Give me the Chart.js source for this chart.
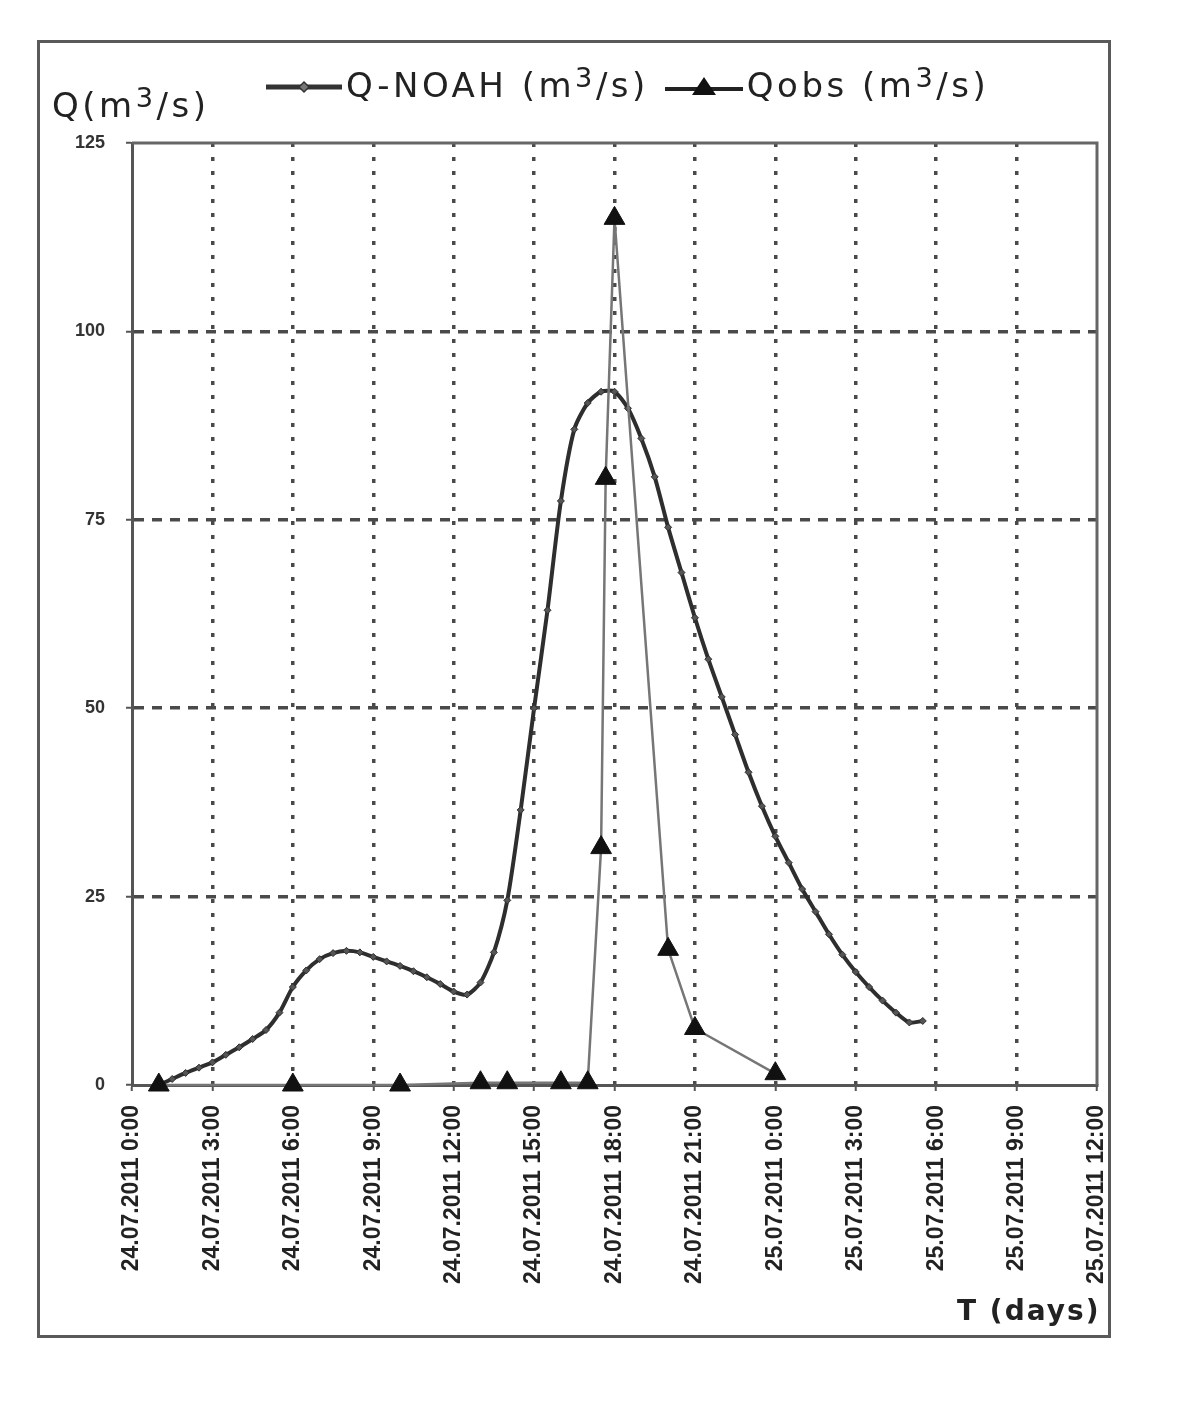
<!DOCTYPE html>
<html>
<head>
<meta charset="utf-8">
<script src="https://cdn.jsdelivr.net/npm/chart.js@4.4.0/dist/chart.umd.min.js"></script>
<style>
  html, body { margin: 0; padding: 0; background: #ffffff; }
  #wrap { position: relative; width: 1200px; height: 1418px; overflow: hidden; }
  #c { position: absolute; left: 0; top: 0; }
  .frame { position: absolute; left: 37px; top: 40px; width: 1074px; height: 1298px;
           border: 3px solid #5a5a5a; box-sizing: border-box; }
  .txt { position: absolute; font-family: 'DejaVu Sans', sans-serif; color: #222; white-space: nowrap; }
  .big { font-size: 34px; line-height: 40px; letter-spacing: 3.5px; }
  .sup { font-size: 0.8em; position: relative; top: -0.35em; }
  #legend { left: 266px; top: 65px; display: flex; align-items: center; }
  #ytitle { left: 52px; top: 85px; }
  #xtitle { left: 957px; top: 1294px; font-size: 28px; line-height: 34px; font-weight: bold; letter-spacing: 2px; }
</style>
</head>
<body>
<div id="wrap">
  <canvas id="c" width="1200" height="1418"></canvas>
  <div class="frame"></div>
  <div id="legend" class="txt big">
    <svg width="76" height="24" viewBox="0 0 76 24"><line x1="0" y1="12" x2="76" y2="12" stroke="#333" stroke-width="5"/><polygon points="38,7 43,12 38,17 33,12" fill="#777" stroke="#333" stroke-width="1.5"/></svg>
    <span style="margin-left:4px">Q-NOAH (m<span class="sup">3</span>/s)</span>
    <svg style="margin-left:16px" width="78" height="26" viewBox="0 0 78 26"><line x1="0" y1="15" x2="78" y2="15" stroke="#222" stroke-width="4"/><polygon points="39,3 51,21 27,21" fill="#111"/></svg>
    <span style="margin-left:4px">Qobs (m<span class="sup">3</span>/s)</span>
  </div>
  <div id="ytitle" class="txt big">Q(m<span class="sup">3</span>/s)</div>
  <div id="xtitle" class="txt">T (days)</div>
</div>
<script>
// ---- data (hours counted from 24.07.2011 0:00) ----
const tickLabels = [
  "24.07.2011 0:00", "24.07.2011 3:00", "24.07.2011 6:00", "24.07.2011 9:00",
  "24.07.2011 12:00", "24.07.2011 15:00", "24.07.2011 18:00", "24.07.2011 21:00",
  "25.07.2011 0:00", "25.07.2011 3:00", "25.07.2011 6:00", "25.07.2011 9:00",
  "25.07.2011 12:00"
];
const yTickValues = [0, 25, 50, 75, 100, 125];

const noahHours = [
  1, 1.5, 2, 2.5, 3, 3.5, 4, 4.5, 5, 5.5, 6, 6.5, 7, 7.5, 8, 8.5, 9, 9.5, 10, 10.5,
  11, 11.5, 12, 12.5, 13, 13.5, 14, 14.5, 15, 15.5, 16, 16.5, 17, 17.5, 18, 18.5, 19, 19.5,
  20, 20.5, 21, 21.5, 22, 22.5, 23, 23.5, 24, 24.5, 25, 25.5, 26, 26.5, 27, 27.5, 28, 28.5,
  29, 29.5
];
const noahQ = [
  0, 0.8, 1.6, 2.3, 3.0, 4.0, 5.0, 6.1, 7.3, 9.6, 13.0, 15.2, 16.7, 17.5, 17.8, 17.6, 17.0, 16.4, 15.8, 15.1,
  14.3, 13.4, 12.4, 12.0, 13.6, 17.6, 24.5, 36.5, 50.0, 63.0, 77.5, 87.0, 90.5, 92.0, 92.0, 89.8, 85.8, 80.7,
  74.0, 68.0, 62.0, 56.5, 51.5, 46.5, 41.5, 37.0, 33.0, 29.5, 26.0, 23.0, 20.0, 17.3, 15.0, 13.0, 11.2, 9.6,
  8.3, 8.5
];

const obsHours = [1, 6, 10, 13, 14, 16, 17, 17.5, 17.67, 18, 20, 21, 24];
const obsQ     = [0, 0, 0, 0.3, 0.3, 0.3, 0.3, 31.5, 80.5, 115, 18, 7.5, 1.5];

// ---- chart ----
Chart.defaults.font.family = "'Liberation Sans', Arial, sans-serif";
Chart.defaults.color = '#222';

const framePlugin = {
  id: 'plotFrame',
  beforeDatasetsDraw(chart) {
    const { ctx, chartArea: a } = chart;
    ctx.save();
    ctx.strokeStyle = '#666';
    ctx.lineWidth = 3;
    ctx.beginPath();
    ctx.moveTo(a.left, a.top);
    ctx.lineTo(a.right, a.top);
    ctx.lineTo(a.right, a.bottom);
    ctx.stroke();
    ctx.restore();
  }
};

const yMin = yTickValues[0], yMax = yTickValues[yTickValues.length - 1];

new Chart(document.getElementById('c').getContext('2d'), {
  type: 'line',
  data: {
    datasets: [
      {
        label: 'Qobs (m3/s)',
        data: obsHours.map((h, i) => ({ x: h, y: obsQ[i] })),
        borderColor: '#767676',
        borderWidth: 2.5,
        pointStyle: 'triangle',
        pointRadius: 12,
        pointBackgroundColor: '#111',
        pointBorderColor: '#111',
        pointBorderWidth: 1,
        tension: 0,
        clip: false,
        order: 0
      },
      {
        label: 'Q-NOAH (m3/s)',
        data: noahHours.map((h, i) => ({ x: h, y: noahQ[i] })),
        borderColor: '#2e2e2e',
        borderWidth: 4,
        pointStyle: 'rectRot',
        pointRadius: 3.5,
        pointBackgroundColor: '#555',
        pointBorderColor: '#2e2e2e',
        pointBorderWidth: 1,
        tension: 0.25,
        clip: false,
        order: 1
      }
    ]
  },
  options: {
    responsive: false,
    animation: false,
    events: [],
    layout: { padding: { left: 0, top: 143, right: 103, bottom: 0 } },
    plugins: { legend: { display: false }, tooltip: { enabled: false } },
    scales: {
      x: {
        type: 'linear',
        min: 0,
        max: 36,
        afterFit: s => { s.height = 1418 - 1085; },
        ticks: {
          stepSize: 3,
          autoSkip: false,
          maxRotation: 90,
          minRotation: 90,
          padding: 14,
          color: '#222',
          font: { size: 23, weight: 'bold' },
          callback: (v, i) => tickLabels[i]
        },
        grid: {
          color: c => (c.tick && (c.tick.value === 0 || c.tick.value === 36)) ? 'rgba(0,0,0,0)' : '#4a4a4a',
          lineWidth: 3.5,
          tickLength: 6,
          tickColor: '#555',
          tickWidth: 2
        },
        border: { display: true, color: '#555', width: 3, dash: [4, 10] }
      },
      y: {
        type: 'linear',
        min: yMin,
        max: yMax,
        afterFit: s => { s.width = 132; },
        ticks: {
          stepSize: 25,
          padding: 21,
          color: '#333',
          font: { size: 18, weight: 'bold' }
        },
        grid: {
          color: c => (c.tick && (c.tick.value === yMin || c.tick.value === yMax)) ? 'rgba(0,0,0,0)' : '#4a4a4a',
          lineWidth: 3.5,
          tickLength: 6,
          tickColor: '#555',
          tickWidth: 2
        },
        border: { display: true, color: '#555', width: 3, dash: [10, 8] }
      }
    }
  },
  plugins: [framePlugin]
});
</script>
</body>
</html>
